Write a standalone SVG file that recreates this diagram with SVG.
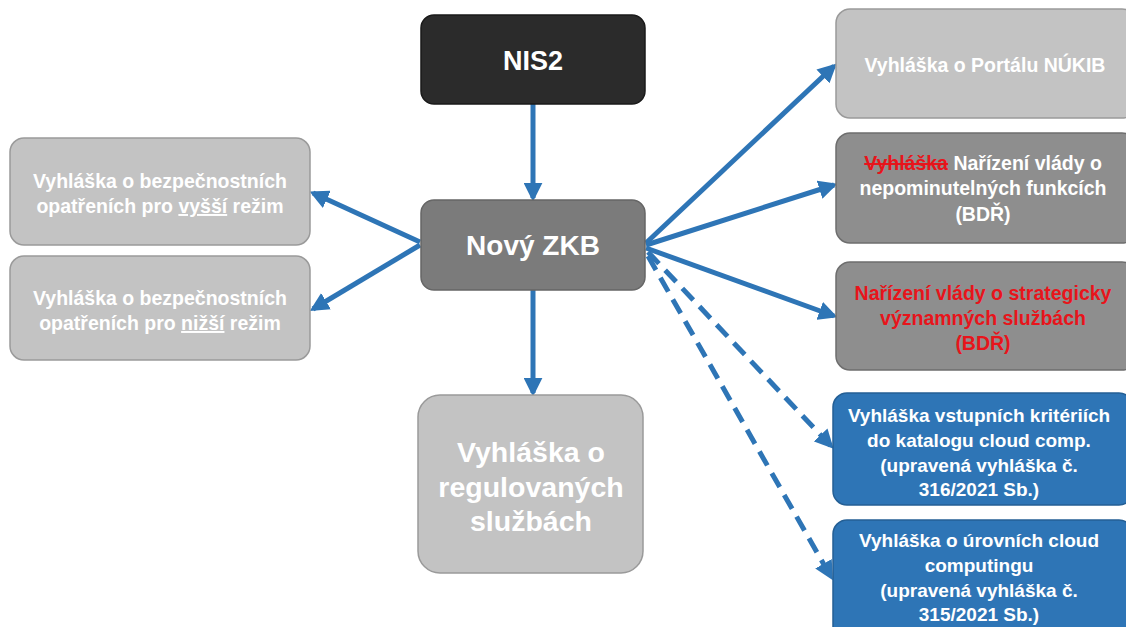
<svg xmlns="http://www.w3.org/2000/svg" width="1126" height="627" viewBox="0 0 1126 627">
<style>
text{font-family:"Liberation Sans",Arial,sans-serif;font-weight:bold;fill:#fff;text-anchor:middle}
.lg{fill:#c3c3c3;stroke:#9a9a9a;stroke-width:1.5}
.dg{fill:#8e8e8e;stroke:#6e6e6e;stroke-width:1.5}
.bl{fill:#2e75b6;stroke:#245f95;stroke-width:1.5}
.s18{font-size:19.5px}
.sb{font-size:19px}
.red{fill:#e8141b}
.con{stroke:#2e75b6;stroke-width:5;fill:none;marker-end:url(#ah)}
.dash{stroke-dasharray:16 9}
</style>
<defs>
<marker id="ah" viewBox="0 0 10 10" refX="8" refY="5" markerWidth="3.8" markerHeight="3.8" orient="auto" markerUnits="strokeWidth">
<path d="M0,0 L10,5 L0,10 z" fill="#2e75b6"/>
</marker>
</defs>
<rect width="1126" height="627" fill="#fff"/>
<g id="connectors">
<line class="con" x1="533" y1="104" x2="533" y2="198"/>
<line class="con" x1="533" y1="290" x2="533" y2="393"/>
<line class="con" x1="420" y1="242" x2="313" y2="193"/>
<line class="con" x1="420" y1="245" x2="313" y2="309"/>
<line class="con" x1="646" y1="243" x2="834" y2="66"/>
<line class="con" x1="646" y1="245" x2="834" y2="185"/>
<line class="con" x1="646" y1="248" x2="834" y2="316"/>
<line class="con dash" x1="648" y1="252" x2="831" y2="446"/>
<line class="con dash" x1="648" y1="256" x2="831" y2="577"/>
</g>
<g id="nis2">
<rect x="421" y="15" width="224" height="89" rx="13" fill="#2b2b2b" stroke="#1a1a1a" stroke-width="1.5"/>
<text x="533" y="70" font-size="27">NIS2</text>
</g>
<g id="zkb">
<rect x="421" y="200" width="224" height="90" rx="13" fill="#7b7b7b" stroke="#666" stroke-width="1.5"/>
<text x="533" y="255" font-size="28">Nový ZKB</text>
</g>
<g id="vyssi">
<rect class="lg" x="10" y="138" width="300" height="107" rx="14"/>
<text class="s18" x="160" y="188">Vyhláška o bezpečnostních</text>
<text class="s18" x="160" y="213">opatřeních pro <tspan text-decoration="underline">vyšší</tspan> režim</text>
</g>
<g id="nizsi">
<rect class="lg" x="10" y="256" width="300" height="104" rx="14"/>
<text class="s18" x="160" y="305">Vyhláška o bezpečnostních</text>
<text class="s18" x="160" y="330">opatřeních pro <tspan text-decoration="underline">nižší</tspan> režim</text>
</g>
<g id="regulovane">
<rect class="lg" x="418" y="395" width="225" height="178" rx="22"/>
<text x="531" y="462" font-size="28.5">Vyhláška o</text>
<text x="531" y="497" font-size="28.5">regulovaných</text>
<text x="531" y="531" font-size="28.5">službách</text>
</g>
<g id="portal">
<rect class="lg" x="836" y="9" width="300" height="109" rx="14"/>
<text class="s18" x="985" y="72">Vyhláška o Portálu NÚKIB</text>
</g>
<g id="nepominutelne">
<rect class="dg" x="836" y="133" width="300" height="110" rx="14"/>
<text class="s18" x="983" y="170"><tspan class="red" text-decoration="line-through">Vyhláška</tspan> Nařízení vlády o</text>
<text class="s18" x="983" y="195">nepominutelných funkcích</text>
<text class="s18" x="983" y="221">(BDŘ)</text>
</g>
<g id="strategicke">
<rect class="dg" x="836" y="262" width="300" height="108" rx="14"/>
<text class="s18 red" x="983" y="300">Nařízení vlády o strategicky</text>
<text class="s18 red" x="983" y="325">významných službách</text>
<text class="s18 red" x="983" y="350">(BDŘ)</text>
</g>
<g id="katalog">
<rect class="bl" x="833" y="393" width="300" height="112" rx="14"/>
<text class="sb" x="979" y="422">Vyhláška vstupních kritériích</text>
<text class="sb" x="979" y="447">do katalogu cloud comp.</text>
<text class="sb" x="979" y="472">(upravená vyhláška č.</text>
<text class="sb" x="979" y="496">316/2021 Sb.)</text>
</g>
<g id="urovne">
<rect class="bl" x="833" y="520" width="300" height="120" rx="14"/>
<text class="sb" x="979" y="547">Vyhláška o úrovních cloud</text>
<text class="sb" x="979" y="572">computingu</text>
<text class="sb" x="979" y="597">(upravená vyhláška č.</text>
<text class="sb" x="979" y="621">315/2021 Sb.)</text>
</g>
</svg>
